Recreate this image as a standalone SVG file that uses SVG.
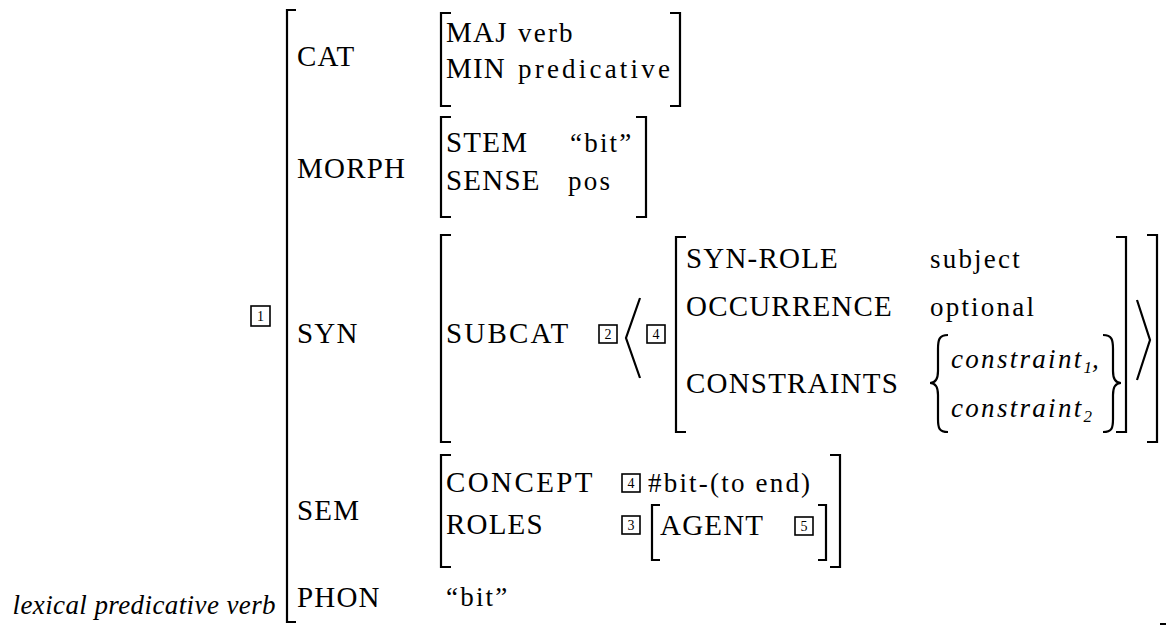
<svg xmlns="http://www.w3.org/2000/svg" width="1166" height="633" viewBox="0 0 1166 633">
<style>
text{font-family:'Liberation Serif','DejaVu Serif',serif;fill:#000}
.a{font-size:29px;letter-spacing:1.2px}
.v{font-size:27px;letter-spacing:2.2px}
.i{font-size:27px;font-style:italic;letter-spacing:2.3px}
.l{font-size:27px;font-style:italic;letter-spacing:0.4px}
.b{font-size:14px;text-anchor:middle;letter-spacing:0}
.br{fill:none;stroke:#000;stroke-width:2.2}
.bx{fill:#fff;stroke:#000;stroke-width:1.6}
</style>
<rect width="1166" height="633" fill="#fff"/>
<g id="root">
<path class="br" d="M296,10 H287 V622 H296"/>
<rect class="bx" x="251" y="306" width="19" height="20"/><text class="b" x="260.5" y="321">1</text>
<text class="l" x="276" y="614" text-anchor="end">lexical predicative verb</text>
<text class="a" x="297" y="66">CAT</text>
<text class="a" x="297" y="178">MORPH</text>
<text class="a" x="297" y="343">SYN</text>
<text class="a" x="297" y="520">SEM</text>
<text class="a" x="297" y="607">PHON</text>
<line x1="1160" y1="624" x2="1166" y2="624" stroke="#000" stroke-width="2"/>
</g>
<g id="cat">
<path class="br" d="M451,13 H441 V106 H451"/>
<path class="br" d="M670,13 H680 V106 H670"/>
<text class="a" x="446" y="42">MAJ</text><text class="v" x="518" y="42">verb</text>
<text class="a" x="446" y="78">MIN</text><text class="v" x="518" y="78" style="letter-spacing:3.2px">predicative</text>
</g>
<g id="morph">
<path class="br" d="M451,117 H441 V217 H451"/>
<path class="br" d="M636,117 H646 V217 H636"/>
<text class="a" x="446" y="152">STEM</text><text class="v" x="570" y="152">“bit”</text>
<text class="a" x="446" y="190">SENSE</text><text class="v" x="568" y="190">pos</text>
</g>
<g id="syn">
<path class="br" d="M451,235 H441 V442 H451"/>
<path class="br" d="M1147,235 H1157 V442 H1147"/>
<text class="a" x="446" y="343" style="letter-spacing:2.2px">SUBCAT</text>
<rect class="bx" x="599" y="325" width="18" height="18"/><text class="b" x="608" y="339">2</text>
<path class="br" d="M640,298 L626,338 L640,378"/>
<rect class="bx" x="647" y="325" width="18" height="18"/><text class="b" x="656" y="339">4</text>
<path class="br" d="M1137,300 L1150,340 L1137,380"/>
</g>
<g id="subcat-item">
<path class="br" d="M686,237 H676 V432 H686"/>
<path class="br" d="M1116,237 H1126 V432 H1116"/>
<text class="a" x="686" y="268">SYN-ROLE</text><text class="v" x="930" y="268">subject</text>
<text class="a" x="686" y="316">OCCURRENCE</text><text class="v" x="930" y="316">optional</text>
<text class="a" x="686" y="393">CONSTRAINTS</text>
<path class="br" d="M948,335 C939,335 938,340 938,349 V371 C938,379 935,383 930,383 C935,383 938,387 938,395 V419 C938,428 939,432 948,432"/>
<text class="i" x="951" y="368">constraint<tspan font-size="17" dy="5" style="letter-spacing:0">1</tspan><tspan dy="-5">,</tspan></text>
<text class="i" x="951" y="417">constraint<tspan font-size="17" dy="5" style="letter-spacing:0">2</tspan></text>
<path class="br" d="M1103,335 C1112,335 1113,340 1113,349 V371 C1113,379 1116,383 1121,383 C1116,383 1113,387 1113,395 V419 C1113,428 1112,432 1103,432"/>
</g>
<g id="sem">
<path class="br" d="M451,455 H441 V567 H451"/>
<path class="br" d="M830,455 H840 V567 H830"/>
<text class="a" x="446" y="492" style="letter-spacing:2.4px">CONCEPT</text>
<rect class="bx" x="622" y="474" width="18" height="18"/><text class="b" x="631" y="488">4</text>
<text class="v" x="648" y="492">#bit-(to end)</text>
<text class="a" x="446" y="534">ROLES</text>
<rect class="bx" x="622" y="516" width="18" height="18"/><text class="b" x="631" y="530">3</text>
<path class="br" d="M660,505 H652 V560 H660"/>
<text class="a" x="660" y="535">AGENT</text>
<rect class="bx" x="795" y="517" width="18" height="18"/><text class="b" x="804" y="531">5</text>
<path class="br" d="M818,505 H826 V560 H818"/>
</g>
<g id="phon">
<text class="v" x="446" y="606">“bit”</text>
</g>
</svg>
